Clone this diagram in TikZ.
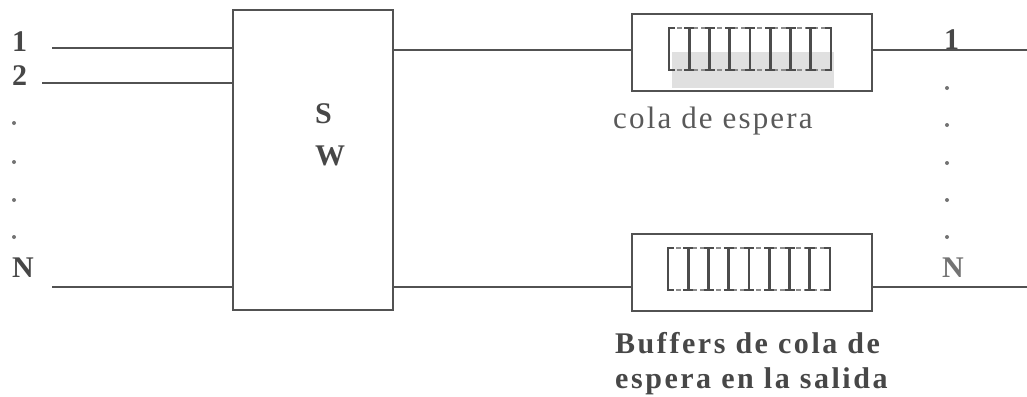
\documentclass[tikz,border=0pt]{standalone}
\usepackage{fontspec}
\setmainfont{Liberation Serif}
\newfontfamily\spaced[LetterSpace=7]{Liberation Serif}
\newfontfamily\spacedbf[LetterSpace=8.5]{Liberation Serif}
\begin{document}
\begin{tikzpicture}[x=1pt,y=-1pt,
  ink/.style={draw=black!68,line width=1.8pt},
  lbl/.style={inner sep=0pt,text=black!72,font=\fontsize{30}{34}\selectfont\bfseries},
  caption/.style={inner sep=0pt,text=black!65,font=\fontsize{31}{34}\selectfont\spaced},
  captionbf/.style={inner sep=0pt,text=black!72,font=\fontsize{30}{34}\selectfont\spacedbf\bfseries},
  dotmark/.style={fill=black!55,draw=none},
  qbox/.style={ink,minimum width=240pt,minimum height=77pt,inner sep=0pt},
  queue/.pic={
    \draw[black!45,line width=1.6pt,dash pattern=on 5pt off 3pt] (0,0) -- (162,0) (0,42) -- (162,42);
    \draw[black!70,line width=2.2pt] (6,0) -- (0,0) -- (0,42) -- (6,42)
                                     (156,0) -- (162,0) -- (162,42) -- (156,42);
    \foreach \k in {1,...,7}{
      \draw[black!70,line width=2.6pt] ({20.25*\k},0) -- ({20.25*\k},42);
      \draw[black!70,line width=2.2pt] ({20.25*\k-5},0) -- ({20.25*\k+5},0)
                                       ({20.25*\k-5},42) -- ({20.25*\k+5},42);
    }
  }]
\useasboundingbox[fill=white] (0,0) rectangle (1027,396);

% switch fabric
\node[ink,minimum width=160pt,minimum height=300pt,inner sep=0pt] (sw) at (313,160) {};
\node[lbl,anchor=base west] (s) at (315,123) {S};
\node[lbl,anchor=base west] (w) at (315,165) {W};

% input ports
\coordinate (i1) at (52,48);
\coordinate (i2) at (42,83);
\coordinate (iN) at (52,287);
\draw[ink] (i1) -- (i1 -| sw.west);
\draw[ink] (i2) -- (i2 -| sw.west);
\draw[ink] (iN) -- (iN -| sw.west);
\node[lbl,anchor=base west] (in1) at (12,52) {1};
\node[lbl,anchor=base west] (in2) at (12,85) {2};
\node[lbl,anchor=base west] (inN) at (12,277) {N};
\foreach \y in {123,162,200,237}{\fill[dotmark] (14,\y) circle (2pt);}

% output queues
\fill[black!12] (672,52) rectangle (834,88);
\node[qbox] (q1) at (752,52.5) {};
\node[qbox] (qN) at (752,272.5) {};
\pic at (669,28) {queue};
\pic at (668,248) {queue};

\coordinate (o1) at (1027,50);
\coordinate (oN) at (1027,287);
\draw[ink] (sw.east |- o1) -- (o1 -| q1.west);
\draw[ink] (sw.east |- oN) -- (oN -| qN.west);
\draw[ink] (q1.east |- o1) -- (o1);
\draw[ink] (qN.east |- oN) -- (oN);

% output port labels
\node[lbl,anchor=base west] (out1) at (944,50) {1};
\node[lbl,anchor=base west,text=black!55] (outN) at (942,277) {N};
\foreach \y in {88,125,163,200,237}{\fill[dotmark] (947,\y) circle (2pt);}

% captions
\node[caption,anchor=base west] (c1) at (613,128) {cola de espera};
\node[captionbf,anchor=base west] (c2) at (615,353) {Buffers de cola de};
\node[captionbf,anchor=base west] (c3) at (615,388) {espera en la salida};
\end{tikzpicture}
\end{document}
